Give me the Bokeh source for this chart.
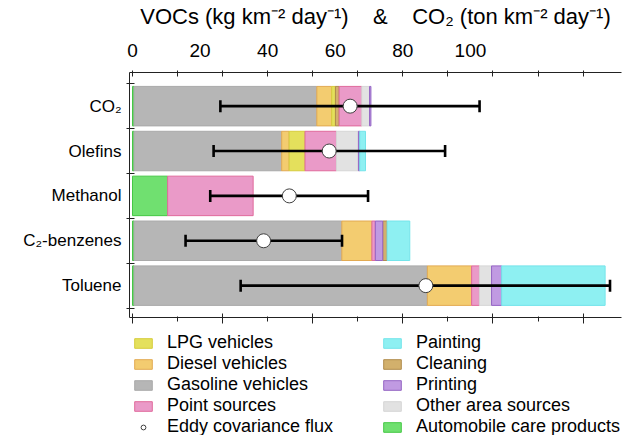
from bokeh.plotting import figure
from bokeh.models import (ColumnDataSource, FixedTicker, LinearAxis, Range1d,
                          Legend, LegendItem)
from bokeh.layouts import column
from bokeh.embed import file_html
from bokeh.resources import INLINE
import numpy as np

# ---------------- data ----------------
categories = ["CO\u2082", "Olefins", "Methanol", "C\u2082-benzenes", "Toluene"]
y_pos = [5, 4, 3, 2, 1]

auto_care = [0.45, 0.45, 10.4, 0.45, 0.45]
gasoline = [54.1, 43.7, 0.0, 61.5, 86.8]
diesel = [4.4, 2.2, 0.0, 8.9, 13.1]
lpg = [1.1, 4.7, 0.0, 0.0, 0.0]
cleaning = [1.1, 0.0, 0.0, 1.3, 0.0]
point = [6.7, 9.3, 25.3, 1.0, 2.3]
other_area = [2.3, 6.5, 0.0, 0.0, 3.6]
printing = [0.4, 0.4, 0.0, 2.2, 3.0]
painting = [0.0, 1.7, 0.0, 6.7, 30.6]

eddy_flux = [64.4, 58.2, 46.4, 38.8, 86.8]
eddy_low = [26.0, 24.0, 23.0, 15.7, 32.0]
eddy_high = [102.7, 92.5, 69.7, 62.0, 141.3]

top_tick_values = [0, 20, 40, 60, 80, 100]
top_tick_labels = ["0", "20", "40", "60", "80", "100"]

values = {
    "Automobile care products": auto_care,
    "Gasoline vehicles": gasoline,
    "Diesel vehicles": diesel,
    "LPG vehicles": lpg,
    "Cleaning": cleaning,
    "Point sources": point,
    "Other area sources": other_area,
    "Printing": printing,
    "Painting": painting,
}

order_co2 = ["Automobile care products", "Gasoline vehicles", "Diesel vehicles",
             "LPG vehicles", "Cleaning", "Point sources", "Other area sources",
             "Printing", "Painting"]
order_voc = ["Automobile care products", "Gasoline vehicles", "Diesel vehicles",
             "LPG vehicles", "Point sources", "Other area sources", "Printing",
             "Cleaning", "Painting"]
stack_orders = [order_co2, order_voc, order_voc, order_voc, order_voc]

fills = {
    "LPG vehicles": "#e4e05c",
    "Diesel vehicles": "#f3cc70",
    "Gasoline vehicles": "#b6b6b6",
    "Point sources": "#ea9ac8",
    "Painting": "#8ef0f2",
    "Cleaning": "#d2b06c",
    "Printing": "#c09ae2",
    "Other area sources": "#e2e2e2",
    "Automobile care products": "#70e070",
}
edges = {
    "LPG vehicles": "#d6cc3c",
    "Diesel vehicles": "#e2aa52",
    "Gasoline vehicles": "#aaaaaa",
    "Point sources": "#e06a9c",
    "Painting": "#74e4ea",
    "Cleaning": "#b08c4c",
    "Printing": "#9464c4",
    "Other area sources": "#d6d6d6",
    "Automobile care products": "#44c844",
}

legend_order = ["LPG vehicles", "Diesel vehicles", "Gasoline vehicles",
                "Point sources", "Eddy covariance flux", "Painting", "Cleaning",
                "Printing", "Other area sources", "Automobile care products"]

FONT = "Liberation Sans"

# ---------------- main figure ----------------
p = figure(x_range=Range1d(-0.89, 144.7), y_range=Range1d(0.29, 5.75),
           frame_width=492, frame_height=245,
           min_border_left=129, min_border_top=71, min_border_right=2,
           min_border_bottom=12,
           x_axis_type=None, y_axis_type=None,
           output_backend="svg", toolbar_location=None)
p.outline_line_color = None
p.xgrid.visible = False
p.ygrid.visible = False

segs = {k: {"y": [], "left": [], "right": []} for k in values}
for i, order in enumerate(stack_orders):
    cum = 0.0
    for s in order:
        v = values[s][i]
        if v > 0:
            segs[s]["y"].append(y_pos[i])
            segs[s]["left"].append(cum)
            segs[s]["right"].append(cum + v)
            cum += v

bar_sources = {s: ColumnDataSource(d) for s, d in segs.items()}
for s, src in bar_sources.items():
    p.hbar(y="y", left="left", right="right", height=0.88,
           source=src, fill_color=fills[s],
           line_color=edges[s], line_width=1)

err = ColumnDataSource(dict(y=y_pos, low=eddy_low, high=eddy_high, flux=eddy_flux))
p.segment(x0="low", x1="high", y0="y", y1="y", source=err,
          line_color="black", line_width=2.6)
p.scatter(x="low", y="y", source=err, marker="dash", angle=np.pi / 2,
          size=12, line_color="black", line_width=2.6)
p.scatter(x="high", y="y", source=err, marker="dash", angle=np.pi / 2,
          size=12, line_color="black", line_width=2.6)
p.scatter(x="flux", y="y", source=err, marker="circle", size=14,
          fill_color="white", line_color="#404040", line_width=1)

# ---------------- axes ----------------
tick_step = 40 / 3
minor_marks = [k * tick_step for k in range(0, 11)]
major_marks = [k * 2 * tick_step for k in range(0, 6)]
odd_marks = [(2 * k + 1) * tick_step for k in range(0, 6)]

title = ("VOCs (kg km\u207b\u00b2 day\u207b\u00b9)\u00a0\u00a0\u00a0\u00a0&"
         "\u00a0\u00a0\u00a0\u00a0CO\u2082 (ton km\u207b\u00b2 day\u207b\u00b9)")

top = LinearAxis(ticker=FixedTicker(ticks=top_tick_values, minor_ticks=minor_marks),
                 major_label_overrides={v: t for v, t in zip(top_tick_values, top_tick_labels)},
                 axis_label=title)
top.major_tick_line_color = None
top.major_tick_in = 0
top.major_tick_out = 2
top.minor_tick_in = 4
top.minor_tick_out = 2
top.major_label_standoff = 14
top.major_label_text_font = FONT
top.major_label_text_font_size = "19px"
top.major_label_text_color = "black"
top.axis_label_text_font = FONT
top.axis_label_text_font_size = "22px"
top.axis_label_text_font_style = "normal"
top.axis_label_text_color = "black"
top.axis_label_standoff = 12
top.axis_line_color = "#222222"
top.minor_tick_line_color = "#222222"
p.add_layout(top, "above")

bot = LinearAxis(ticker=FixedTicker(ticks=major_marks, minor_ticks=odd_marks),
                 major_label_overrides={v: "" for v in major_marks})
bot.major_tick_in = 4
bot.major_tick_out = 6
bot.minor_tick_in = 1
bot.minor_tick_out = 4
bot.major_label_standoff = 0
bot.axis_line_color = "#222222"
bot.major_tick_line_color = "#222222"
bot.minor_tick_line_color = "#222222"
p.add_layout(bot, "below")

boundaries = [0.5, 1.5, 2.5, 3.5, 4.5, 5.5]
left = LinearAxis(ticker=FixedTicker(ticks=y_pos, minor_ticks=boundaries),
                  major_label_overrides={y: c for y, c in zip(y_pos, categories)})
left.major_tick_line_color = None
left.major_tick_in = 0
left.major_tick_out = 3
left.minor_tick_in = 5
left.minor_tick_out = 3
left.major_label_standoff = 5
left.major_label_text_font = FONT
left.major_label_text_font_size = "17px"
left.major_label_text_color = "black"
left.axis_line_color = "#222222"
left.minor_tick_line_color = "#222222"
p.add_layout(left, "left")

# ---------------- legend panel ----------------
# Key renderers share the real data but sit outside this panel's ranges,
# so only their legend swatches are visible.
q = figure(x_range=Range1d(-0.89, 144.7), y_range=Range1d(20, 21),
           frame_width=492, frame_height=106,
           min_border_left=129, min_border_top=0, min_border_right=2,
           min_border_bottom=0,
           x_axis_type=None, y_axis_type=None,
           output_backend="svg", toolbar_location=None)
q.outline_line_color = None
q.xgrid.visible = False
q.ygrid.visible = False

key_renderers = {}
for s, src in bar_sources.items():
    key_renderers[s] = q.hbar(y="y", left="left", right="right", height=0.88,
                              source=src, fill_color=fills[s],
                              line_color=edges[s], line_width=1)
key_renderers["Eddy covariance flux"] = q.scatter(
    x="flux", y="y", source=err, marker="circle", size=14,
    fill_color="white", line_color="#404040", line_width=1)

items = [LegendItem(label=name, renderers=[key_renderers[name]]) for name in legend_order]
legend = Legend(items=items, location="top_left", orientation="vertical", nrows=5,
                label_text_font=FONT, label_text_font_size="18px",
                label_text_color="black",
                glyph_width=22, glyph_height=12, label_standoff=13,
                label_width=214, label_height=20, spacing=0, padding=1, margin=3,
                border_line_color=None, background_fill_alpha=0)
q.add_layout(legend, "center")

layout = column(p, q, spacing=0)
open("out.html", "w").write(file_html(layout, INLINE))
